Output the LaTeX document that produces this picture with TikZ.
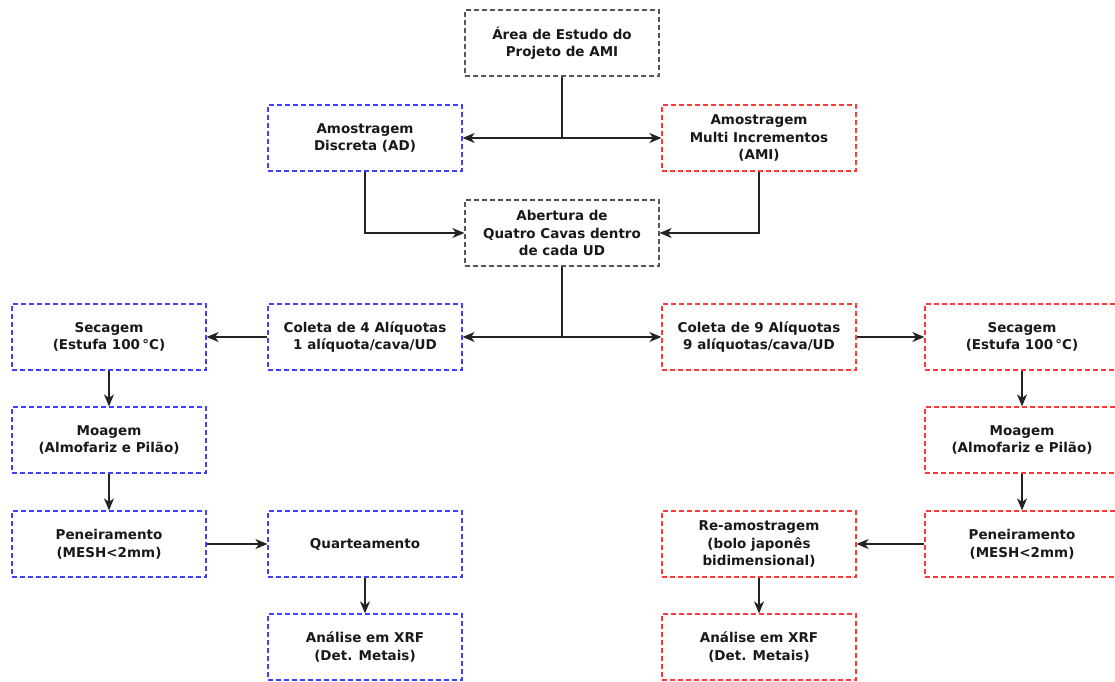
\documentclass[tikz,border=0pt]{standalone}
\usepackage{fontspec}
\setmainfont{DejaVu Sans}
\usetikzlibrary{arrows.meta}
\definecolor{boxblue}{RGB}{64,64,255}
\definecolor{boxred}{RGB}{255,55,55}
\definecolor{boxgray}{RGB}{85,85,85}
\definecolor{wire}{RGB}{35,35,35}
\begin{document}
\begin{tikzpicture}[x=1pt,y=-1pt,
  stage/.style={draw, dash pattern=on 5pt off 3pt, line width=1.2pt,
    minimum width=194pt, minimum height=66pt, align=center,
    inner sep=2pt, font=\bfseries\fontsize{13.5}{17.5}\selectfont, text=black!90},
  bluebox/.style={stage, draw=boxblue},
  redbox/.style={stage, draw=boxred},
  graybox/.style={stage, draw=boxgray},
  link/.style={draw=wire, line width=1.2pt,
    -{Stealth[length=12pt, width=10pt, inset=3.5pt]}},
  trunk/.style={draw=wire, line width=1.2pt}]
\useasboundingbox (0,0) rectangle (1115,681);
\clip (0,0) rectangle (1115,681);

% central trunk
\node[graybox] (area) at (562,43) {Área de Estudo do\\Projeto de AMI};
\node[bluebox] (ad) at (365,138) {Amostragem\\Discreta (AD)};
\node[redbox] (ami) at (759,138) {Amostragem\\Multi Incrementos\\(AMI)};
\node[graybox] (cavas) at (562,233) {Abertura de\\Quatro Cavas dentro\\de cada UD};
\node[bluebox] (col4) at (365,337) {Coleta de 4 Alíquotas\\1 alíquota/cava/UD};
\node[redbox] (col9) at (759,337) {Coleta de 9 Alíquotas\\9 alíquotas/cava/UD};

% left branch (AD)
\node[bluebox] (secL) at (109,337) {Secagem\\(Estufa 100\,\textdegree C)};
\node[bluebox] (moaL) at (109,440) {Moagem\\(Almofariz e Pilão)};
\node[bluebox] (penL) at (109,544) {Peneiramento\\(MESH<2mm)};
\node[bluebox] (quart) at (365,544) {Quarteamento};
\node[bluebox] (xrfL) at (365,647) {Análise em XRF\\(Det. Metais)};

% right branch (AMI)
\node[redbox] (secR) at (1022,337) {Secagem\\(Estufa 100\,\textdegree C)};
\node[redbox] (moaR) at (1022,440) {Moagem\\(Almofariz e Pilão)};
\node[redbox] (penR) at (1022,544) {Peneiramento\\(MESH<2mm)};
\node[redbox] (ream) at (759,544) {Re-amostragem\\(bolo japonês\\bidimensional)};
\node[redbox] (xrfR) at (759,647) {Análise em XRF\\(Det. Metais)};

% junctions
\coordinate (j1) at (area.south |- ad.east);
\coordinate (j2) at (cavas.south |- col4.east);

\draw[trunk] (area.south) -- (j1);
\draw[link] (j1) -- (ad.east);
\draw[link] (j1) -- (ami.west);
\draw[link] (ad.south) |- (cavas.west);
\draw[link] (ami.south) |- (cavas.east);
\draw[trunk] (cavas.south) -- (j2);
\draw[link] (j2) -- (col4.east);
\draw[link] (j2) -- (col9.west);

\draw[link] (col4.west) -- (secL.east);
\draw[link] (secL.south) -- (moaL.north);
\draw[link] (moaL.south) -- (penL.north);
\draw[link] (penL.east) -- (quart.west);
\draw[link] (quart.south) -- (xrfL.north);

\draw[link] (col9.east) -- (secR.west);
\draw[link] (secR.south) -- (moaR.north);
\draw[link] (moaR.south) -- (penR.north);
\draw[link] (penR.west) -- (ream.east);
\draw[link] (ream.south) -- (xrfR.north);
\end{tikzpicture}
\end{document}
